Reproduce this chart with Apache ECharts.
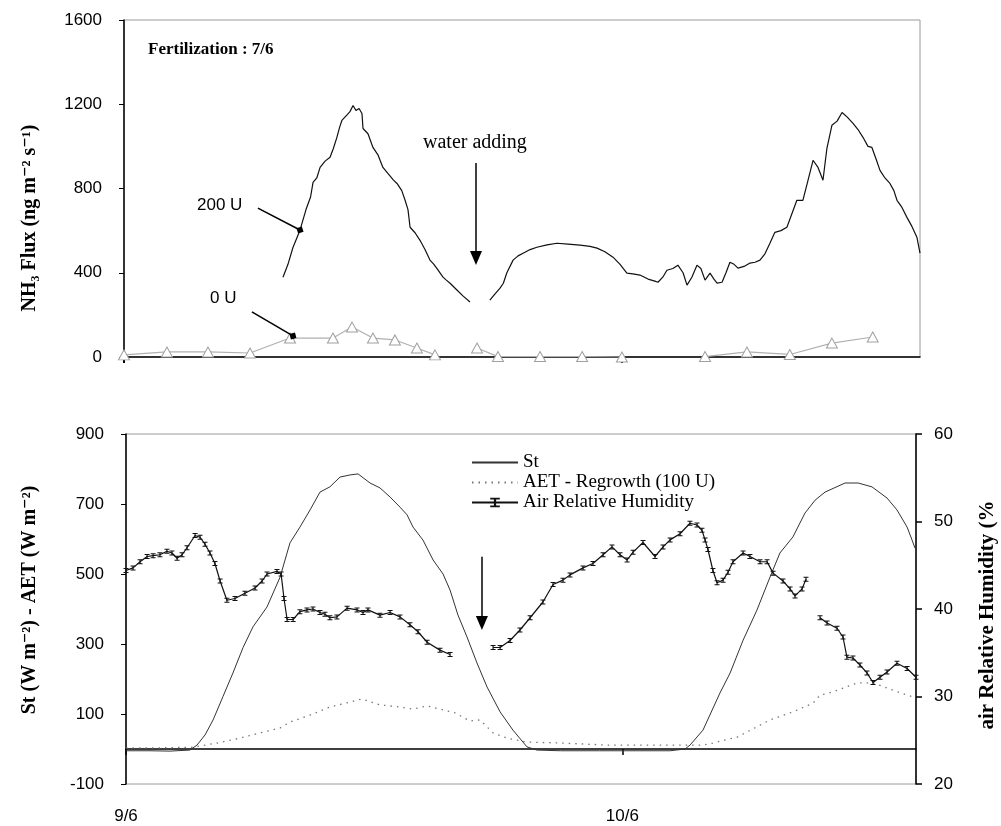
<!DOCTYPE html>
<html>
<head>
<meta charset="utf-8">
<script src="https://cdn.jsdelivr.net/npm/echarts@6/dist/echarts.min.js"></script>
<style>html,body{margin:0;padding:0;background:#fff}#c{width:1001px;height:826px}</style>
</head>
<body>
<div id="c"></div>
<script>
// hours since 9/6 00:00
const xTickLabels = { 0: '9/6', 24: '10/6' };
const xTickValues = [0, 24];
const fluxTicks = [0, 400, 800, 1200, 1600];
const leftTicks = [-100, 100, 300, 500, 700, 900];
const rhTicks = [20, 30, 40, 50, 60];

// NH3 flux, 200 U (ng m-2 s-1)
const flux200U = [
  [7.67,379],[7.91,440],[8.15,520],[8.49,602],[8.78,700],[9.0,760],[9.12,829],[9.30,850],[9.46,900],[9.70,930],[9.94,948],
  [10.10,990],[10.27,1043],[10.40,1090],[10.51,1123],[10.76,1150],[10.90,1165],[11.05,1194],[11.19,1170],[11.34,1180],
  [11.48,1156],[11.53,1085],[11.77,1060],[12.01,995],[12.25,960],[12.49,900],[12.83,860],[13.0,840],[13.17,824],[13.40,790],
  [13.56,744],[13.70,700],[13.80,616],[14.04,590],[14.28,554],[14.52,510],[14.76,460],[14.95,440],[15.10,420],[15.39,379],
  [15.55,365],[15.73,350],[16.06,318],[16.35,290],[16.69,261],[17.2,null],
  [17.65,270],[17.90,300],[18.14,327],[18.30,350],[18.47,400],[18.77,460],[19.01,480],[19.25,493],[19.59,510],[19.92,521],
  [20.41,532],[20.89,540],[21.42,536],[22.00,531],[22.48,525],[22.82,517],[23.20,500],[23.59,474],[23.93,440],[24.26,398],
  [24.55,395],[24.89,389],[25.28,370],[25.61,360],[25.76,355],[26.00,380],[26.19,412],[26.48,420],[26.72,436],[26.97,400],
  [27.16,341],[27.40,380],[27.64,436],[27.83,420],[28.03,365],[28.27,398],[28.46,370],[28.61,351],[28.85,355],[29.04,400],
  [29.23,450],[29.43,440],[29.62,422],[29.91,430],[30.20,446],[30.44,450],[30.68,460],[30.92,490],[31.16,540],[31.40,592],
  [31.69,600],[31.98,616],[32.22,680],[32.46,744],[32.75,744],[33.00,840],[33.24,934],[33.48,900],[33.72,839],[33.82,920],
  [33.91,991],[34.15,1100],[34.40,1120],[34.64,1161],[34.88,1140],[35.17,1109],[35.41,1080],[35.65,1043],[35.89,1000],
  [36.08,995],[36.28,940],[36.47,886],[36.71,850],[36.95,824],[37.14,790],[37.29,744],[37.53,710],[37.77,663],[38.01,620],
  [38.25,569],[38.40,493]
];

// NH3 flux, 0 U
const flux0U = [
  [0,10],[2.07,24],[4.05,24],[6.08,19],[8.01,90],[10.08,90],[11.0,142],[12.01,90],[13.07,81],[14.13,43],[15.0,10],
  [16.0,null],[17.03,43],[18.04,2],[20.07,2],[22.10,2],[24.02,0],[26.0,null],[28.03,2],[30.05,24],[32.12,12],[34.15,66],[36.12,95]
];

// St (W m-2)
const st = [
  [0,-5],[1.16,-5],[2.13,-6],[3.09,-3],[3.43,11],[3.82,40],[4.21,83],[4.69,150],[5.17,217],[5.66,290],[6.14,349],[6.82,406],
  [7.45,491],[7.93,589],[8.41,634],[8.90,683],[9.38,734],[9.86,749],[10.35,777],[10.83,783],[11.22,786],[11.80,760],
  [12.28,746],[12.77,720],[13.25,691],[13.59,669],[13.88,634],[14.36,597],[14.85,540],[15.33,500],[15.67,454],[16.05,383],
  [16.49,320],[16.97,246],[17.46,177],[18.09,106],[18.71,54],[19.39,6],[19.87,-3],[21.0,-5],[22.9,-5],[24.85,-5],[26.31,-5],
  [27.03,0],[27.27,11],[27.90,54],[28.72,160],[29.21,217],[29.84,311],[30.51,397],[31.14,491],[31.62,560],[32.25,606],
  [32.83,674],[33.32,711],[33.80,734],[34.77,760],[35.40,760],[36.07,749],[36.80,717],[37.28,683],[37.77,634],[38.01,597],[38.15,574]
];

// AET - Regrowth (100 U) (W m-2)
const aet = [
  [0,3],[1.16,3],[3.24,5],[4.40,17],[5.51,31],[6.48,46],[7.45,60],[7.93,77],[8.90,97],[9.86,120],[10.83,134],[11.41,143],
  [12.28,126],[13.25,120],[13.88,114],[14.56,123],[15.18,114],[15.91,103],[16.63,80],[17.12,83],[17.75,46],[18.42,31],
  [19.39,20],[20.99,17],[23.40,11],[26.31,11],[27.90,11],[28.38,17],[29.55,34],[31.14,83],[32.25,106],[33.22,131],
  [33.56,154],[34.19,163],[35.35,189],[36.12,189],[36.94,171],[37.77,154],[38.2,146]
];

// Air relative humidity (%)
const rh = [
  [0,44.4],[0.34,44.7],[0.68,45.4],[1.02,46.0],[1.31,46.1],[1.64,46.2],[1.98,46.6],[2.22,46.4],[2.47,45.8],[2.71,46.2],
  [2.95,47.0],[3.34,48.4],[3.58,48.2],[3.82,47.4],[4.06,46.4],[4.30,45.2],[4.55,43.2],[4.88,41.0],[5.27,41.2],[5.75,41.8],
  [6.24,42.4],[6.58,43.2],[6.82,44.0],[7.30,44.3],[7.50,44.0],[7.64,41.2],[7.79,38.8],[8.08,38.8],[8.41,39.7],[8.75,39.9],
  [9.04,40.0],[9.38,39.6],[9.62,39.4],[9.86,39.0],[10.20,39.1],[10.69,40.1],[11.17,39.9],[11.46,39.6],[11.70,39.9],
  [12.28,39.3],[12.77,39.6],[13.25,39.1],[13.73,38.2],[14.12,37.4],[14.56,36.2],[15.18,35.3],[15.67,34.8],[16.5,null],
  [17.75,35.6],[18.09,35.6],[18.57,36.4],[19.05,37.6],[19.54,39.0],[20.16,40.8],[20.65,42.8],[21.13,43.3],[21.47,43.9],
  [22.10,44.7],[22.58,45.2],[23.07,46.2],[23.50,47.1],[23.89,46.2],[24.23,45.6],[24.52,46.5],[25.00,47.6],[25.58,46.0],
  [25.97,47.1],[26.31,47.9],[26.79,48.6],[27.27,49.8],[27.61,49.6],[27.85,49.0],[28.00,47.9],[28.14,46.8],[28.38,44.4],
  [28.58,43.0],[28.87,43.3],[29.11,44.2],[29.35,45.4],[29.84,46.4],[30.17,46.0],[30.66,45.4],[31.00,45.4],[31.29,44.1],
  [31.77,43.2],[32.11,42.3],[32.35,41.5],[32.69,42.3],[32.88,43.4],[33.2,null],
  [33.56,39.0],[33.90,38.4],[34.38,37.8],[34.67,36.8],[34.86,34.5],[35.15,34.4],[35.49,33.6],[35.83,32.7],[36.12,31.6],
  [36.46,32.2],[36.80,32.8],[37.28,33.8],[37.77,33.2],[38.2,32.2]
];

// annotation arrows (data coordinates)
const arrow200U = [[6.46,707],[8.49,603]];
const arrow0U = [[6.17,214],[8.15,100]];
const arrowWaterTop = [[16.98,921],[16.98,470]];
const arrowWaterBottom = [[17.21,549],[17.21,360]];

const SANS = "'Liberation Sans', Arial, sans-serif";
const SERIF = "'Liberation Serif', 'DejaVu Serif', serif";
const tickFont = { fontFamily: SANS, fontSize: 17, color: '#000', formatter: v => String(v) };

const chart = echarts.init(document.getElementById('c'), null, { renderer: 'canvas' });

function arrowLine(pts, endSymbol, size) {
  return {
    silent: true,
    symbol: ['none', endSymbol],
    symbolSize: size,
    label: { show: false },
    lineStyle: { color: '#000', width: 1.5, type: 'solid' },
    itemStyle: { color: '#000' },
    emphasis: { disabled: true },
    data: [[{ coord: pts[0] }, { coord: pts[1] }]]
  };
}

const option = {
  backgroundColor: '#fff',
  animation: false,
  grid: [
    { left: 124, top: 20, width: 796, height: 337, show: true, borderColor: '#9a9a9a', borderWidth: 1, backgroundColor: 'transparent' },
    { left: 126, top: 434, width: 790, height: 350, show: true, borderColor: '#9a9a9a', borderWidth: 1, backgroundColor: 'transparent' }
  ],
  xAxis: [
    { type: 'value', gridIndex: 0, min: 0, max: 38.4, interval: 24,
      axisLine: { onZero: true, lineStyle: { color: '#000', width: 1.5 } },
      axisTick: { show: true, length: 6, customValues: xTickValues, lineStyle: { color: '#000', width: 2 } },
      axisLabel: { show: false }, splitLine: { show: false } },
    { type: 'value', gridIndex: 1, min: 0, max: 38.2, interval: 24, position: 'bottom',
      axisLine: { onZero: true, lineStyle: { color: '#000', width: 1.5 } },
      axisTick: { show: true, length: 6, customValues: xTickValues, lineStyle: { color: '#000', width: 1.5 } },
      axisLabel: { show: false }, splitLine: { show: false } },
    { type: 'value', gridIndex: 1, min: 0, max: 38.2, interval: 24, position: 'bottom',
      axisLine: { show: false, onZero: false },
      axisTick: { show: false },
      axisLabel: { show: true, margin: 24, customValues: xTickValues, fontFamily: SANS, fontSize: 17, color: '#000',
        formatter: v => xTickLabels[v] || '' },
      splitLine: { show: false } }
  ],
  yAxis: [
    { type: 'value', gridIndex: 0, min: fluxTicks[0], max: fluxTicks[fluxTicks.length - 1], interval: 400,
      axisLine: { show: true, onZero: false, lineStyle: { color: '#000', width: 1.5 } },
      axisTick: { show: true, length: 5, lineStyle: { color: '#000' } },
      axisLabel: { margin: 22, ...tickFont }, splitLine: { show: false } },
    { type: 'value', gridIndex: 1, min: leftTicks[0], max: leftTicks[leftTicks.length - 1], interval: 200,
      axisLine: { show: true, onZero: false, lineStyle: { color: '#000', width: 1.5 } },
      axisTick: { show: true, length: 5, lineStyle: { color: '#000' } },
      axisLabel: { margin: 22, ...tickFont }, splitLine: { show: false } },
    { type: 'value', gridIndex: 1, position: 'right', min: rhTicks[0], max: rhTicks[rhTicks.length - 1], interval: 10,
      axisLine: { show: true, onZero: false, lineStyle: { color: '#000', width: 1.5 } },
      axisTick: { show: true, length: 6, lineStyle: { color: '#000', width: 1.5 } },
      axisLabel: { margin: 18, ...tickFont }, splitLine: { show: false } }
  ],
  legend: {
    orient: 'vertical', left: 466, top: 448, itemWidth: 46, itemHeight: 12, itemGap: 1,
    data: [
      { name: 'St', itemStyle: { opacity: 0 } },
      { name: 'AET - Regrowth (100 U)', itemStyle: { opacity: 0 } },
      { name: 'Air Relative Humidity' }
    ],
    textStyle: { fontFamily: SERIF, fontSize: 19, color: '#000', lineHeight: 19 },
    selectedMode: false
  },
  series: [
    { name: '200 U', type: 'line', xAxisIndex: 0, yAxisIndex: 0, data: flux200U, symbol: 'none',
      connectNulls: false, lineStyle: { color: '#111', width: 1.2 }, itemStyle: { color: '#111' }, z: 3,
      markLine: arrowLine(arrow200U, 'diamond', 8) },
    { name: '0 U', type: 'line', xAxisIndex: 0, yAxisIndex: 0, data: flux0U, symbol: 'triangle', symbolSize: [11, 10],
      connectNulls: false, lineStyle: { color: '#b0b0b0', width: 1.2 },
      itemStyle: { color: '#fff', borderColor: '#a0a0a0', borderWidth: 1 }, z: 2,
      markLine: arrowLine(arrow0U, 'diamond', 8) },
    { name: 'water-top', type: 'line', xAxisIndex: 0, yAxisIndex: 0, data: [], symbol: 'none',
      markLine: arrowLine(arrowWaterTop, 'triangle', [12, 14]) },
    { name: 'St', type: 'line', xAxisIndex: 1, yAxisIndex: 1, data: st, symbol: 'none',
      lineStyle: { color: '#333', width: 1 }, itemStyle: { color: '#333' }, z: 2,
      markLine: arrowLine(arrowWaterBottom, 'triangle', [12, 14]) },
    { name: 'AET - Regrowth (100 U)', type: 'line', xAxisIndex: 1, yAxisIndex: 1, data: aet, symbol: 'none',
      lineStyle: { color: '#777', width: 1.3, type: [1.5, 5] }, itemStyle: { color: '#777' }, z: 2 },
    { name: 'Air Relative Humidity', type: 'line', xAxisIndex: 1, yAxisIndex: 2, data: rh,
      symbol: 'path://M0,0h6v1.2h-2.3v3.6h2.3v1.2h-6v-1.2h2.3v-3.6h-2.3z', symbolSize: [5, 5], showSymbol: true,
      connectNulls: false, lineStyle: { color: '#111', width: 1.2 }, itemStyle: { color: '#111' }, z: 4 }
  ],
  graphic: [
    { type: 'text', left: 148, top: 41, style: { text: 'Fertilization : 7/6', font: "bold 17px " + SERIF, fill: '#000' } },
    { type: 'text', x: 197, y: 205, style: { text: '200 U', font: "17px " + SANS, fill: '#000', textVerticalAlign: 'middle' } },
    { type: 'text', x: 210, y: 298, style: { text: '0 U', font: "17px " + SANS, fill: '#000', textVerticalAlign: 'middle' } },
    { type: 'text', x: 423, y: 143, style: { text: 'water adding', font: "20px " + SERIF, fill: '#000', textVerticalAlign: 'middle' } },
    { type: 'text', x: 30, y: 218, rotation: Math.PI / 2,
      style: { text: 'NH₃ Flux (ng m⁻² s⁻¹)', font: "bold 20px " + SERIF, fill: '#000', textAlign: 'center', textVerticalAlign: 'middle' } },
    { type: 'text', x: 30, y: 600, rotation: Math.PI / 2,
      style: { text: 'St (W m⁻²) - AET (W m⁻²)', font: "bold 20px " + SERIF, fill: '#000', textAlign: 'center', textVerticalAlign: 'middle' } },
    { type: 'text', x: 988, y: 615, rotation: Math.PI / 2,
      style: { text: 'air Relative Humidity (%', font: "bold 21px " + SERIF, fill: '#000', textAlign: 'center', textVerticalAlign: 'middle' } }
  ]
};
chart.setOption(option);
</script>
</body>
</html>
